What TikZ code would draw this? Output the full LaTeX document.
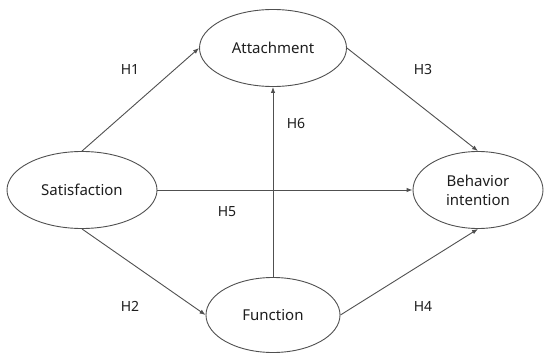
\documentclass[tikz,border=0pt]{standalone}
\usepackage{fontspec}
\setmainfont{Noto Sans}
\usetikzlibrary{shapes.geometric,arrows.meta}
\definecolor{linegray}{RGB}{80,80,80}
\definecolor{textgray}{RGB}{30,30,30}
\tikzset{
  construct/.style={ellipse, draw=linegray, line width=0.9pt, inner sep=0pt, align=center, text=textgray, font=\fontsize{15}{19}\selectfont},
  path/.style={draw=linegray, line width=0.9pt, -{Latex[length=6pt,width=4.5pt]}},
  hlabel/.style={font=\fontsize{14}{17}\selectfont, text=textgray, inner sep=0pt}
}
\begin{document}
\begin{tikzpicture}[x=1pt,y=-1pt]
\useasboundingbox[fill=white] (0,0) rectangle (544,353);
\node[construct, minimum width=147pt, minimum height=77pt] (att) at (273,48) {Attachment};
\node[construct, minimum width=150pt, minimum height=77pt] (sat) at (82,190) {Satisfaction};
\node[construct, minimum width=130pt, minimum height=77pt] (beh) at (478,190) {Behavior\\intention};
\node[construct, minimum width=134pt, minimum height=75pt] (fun) at (273,315) {Function};
\draw[path] (sat.north) -- (att.west);
\draw[path] (sat.south) -- (fun.west);
\draw[path] (sat.east) -- (beh.west);
\draw[path] (att.east) -- (beh.north);
\draw[path] (fun.east) -- (beh.south);
\draw[path] (fun.north) -- (att.south);
\node[hlabel] (h1) at (130,70) {H1};
\node[hlabel] (h3) at (423,70) {H3};
\node[hlabel] (h6) at (296,124) {H6};
\node[hlabel] (h5) at (227,212) {H5};
\node[hlabel] (h2) at (130,306) {H2};
\node[hlabel] (h4) at (423,306) {H4};
\end{tikzpicture}
\end{document}
